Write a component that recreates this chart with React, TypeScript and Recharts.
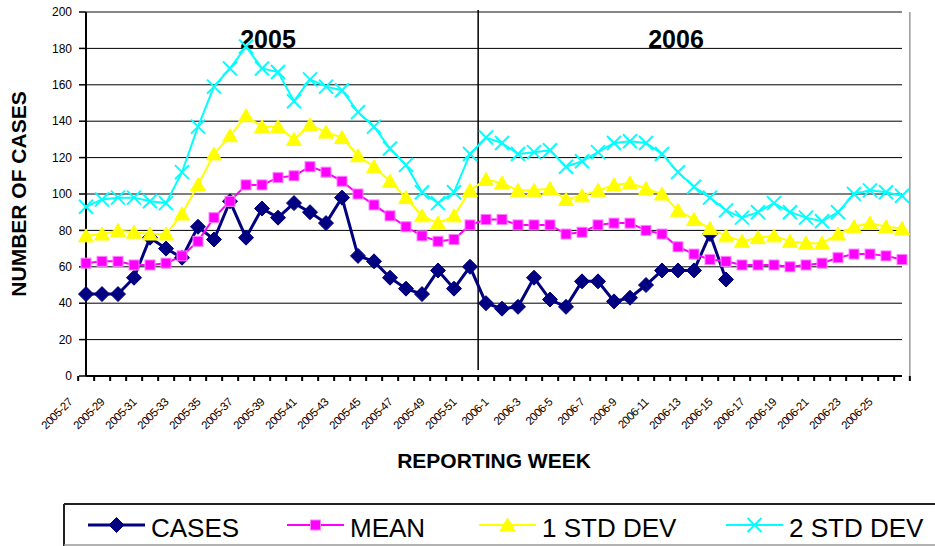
import { ComposedChart, Line, XAxis, YAxis, CartesianGrid, ReferenceLine, ReferenceDot, Label } from "recharts";

const weeks = [
  "2005-27", "2005-28", "2005-29", "2005-30", "2005-31", "2005-32", "2005-33", "2005-34", "2005-35",
  "2005-36", "2005-37", "2005-38", "2005-39", "2005-40", "2005-41", "2005-42", "2005-43", "2005-44",
  "2005-45", "2005-46", "2005-47", "2005-48", "2005-49", "2005-50", "2005-51", "2005-52",
  "2006-1", "2006-2", "2006-3", "2006-4", "2006-5", "2006-6", "2006-7", "2006-8", "2006-9",
  "2006-10", "2006-11", "2006-12", "2006-13", "2006-14", "2006-15", "2006-16", "2006-17", "2006-18",
  "2006-19", "2006-20", "2006-21", "2006-22", "2006-23", "2006-24", "2006-25", "2006-26",
];

// weekly case counts (reporting stops at 2006-15)
const cases = [
  45, 45, 45, 54, 76, 70, 65, 82, 75, 96, 76, 92, 87, 95, 90, 84, 98, 66, 63, 54, 48, 45, 58, 48, 60, 40,
  37, 38, 54, 42, 38, 52, 52, 41, 43, 50, 58, 58, 58, 78, 53,
];

const mean = [
  62, 63, 63, 61, 61, 62, 66, 74, 87, 96, 105, 105, 109, 110, 115, 112, 107, 100, 94, 88, 82, 77, 74, 75, 83, 86,
  86, 83, 83, 83, 78, 79, 83, 84, 84, 80, 78, 71, 67, 64, 63, 61, 61, 61, 60, 61, 62, 65, 67, 67, 66, 64,
];

const oneStdDev = [
  77, 78, 80, 79, 78, 78, 89, 105, 122, 132, 143, 137, 137, 130, 138, 134, 131, 121, 115, 107, 98, 88, 84, 88, 102, 108,
  106, 102, 102, 103, 97, 99, 102, 105, 106, 103, 100, 91, 86, 81, 77, 74, 76, 77, 74, 73, 73, 78, 82, 84, 82, 81,
];

const twoStdDev = [
  93, 97, 98, 98, 96, 95, 112, 137, 159, 169, 181, 169, 167, 151, 163, 159, 157, 145, 137, 125, 116, 101, 95, 101, 122, 131,
  128, 122, 123, 124, 115, 118, 123, 128, 129, 128, 122, 112, 104, 98, 91, 87, 90, 95, 90, 87, 85, 90, 100, 102, 101, 99,
];

const yTicks = [0, 20, 40, 60, 80, 100, 120, 140, 160, 180, 200];

const data = weeks.map((week, i) => ({
  week,
  cases: cases[i] ?? null,
  mean: mean[i],
  std1: oneStdDev[i],
  std2: twoStdDev[i],
}));

const FONT = '"Liberation Sans", Arial, Helvetica, sans-serif';
const PLOT_W = 816;
const BAND = PLOT_W / weeks.length;

const NAVY = "#000080";
const MAGENTA = "#FF00FF";
const YELLOW = "#FFFF00";
const CYAN = "#00FFFF";

function WeekTick(props: any) {
  const { x, y, index, payload } = props;
  const left = x - BAND / 2;
  const tx = x - 13;
  const ty = y + 27;
  return (
    <g>
      <line x1={left} y1={y} x2={left} y2={y + 5} stroke="#000" strokeWidth={2} />
      {index === weeks.length - 1 && (
        <line x1={x + BAND / 2} y1={y} x2={x + BAND / 2} y2={y + 5} stroke="#000" strokeWidth={2} />
      )}
      {index % 2 === 0 && (
        <text
          x={tx}
          y={ty}
          transform={`rotate(-45 ${tx} ${ty})`}
          textAnchor="end"
          fontSize={11.5}
          letterSpacing={-0.6}
          fontFamily={FONT}
          fill="#000"
        >
          {payload.value}
        </text>
      )}
    </g>
  );
}

function diamond(p: any) {
  if (p.cx == null || p.cy == null || p.value == null) return <g key={p.index} />;
  const { cx, cy } = p;
  const s = 7.5;
  return (
    <polygon key={p.index} points={`${cx},${cy - s} ${cx + s},${cy} ${cx},${cy + s} ${cx - s},${cy}`} fill={NAVY} stroke={NAVY} />
  );
}

function square(p: any) {
  if (p.cx == null || p.cy == null) return <g key={p.index} />;
  return <rect key={p.index} x={p.cx - 5} y={p.cy - 5} width={10} height={10} fill={MAGENTA} stroke="#FF80FF" strokeWidth={1} />;
}

function triangle(p: any) {
  if (p.cx == null || p.cy == null) return <g key={p.index} />;
  const { cx, cy } = p;
  return <polygon key={p.index} points={`${cx},${cy - 7} ${cx + 7.5},${cy + 6} ${cx - 7.5},${cy + 6}`} fill={YELLOW} stroke={YELLOW} />;
}

function cross(p: any) {
  if (p.cx == null || p.cy == null) return <g key={p.index} />;
  const { cx, cy } = p;
  const s = 7;
  return (
    <g key={p.index} stroke={CYAN} strokeWidth={2}>
      <line x1={cx - s} y1={cy - s} x2={cx + s} y2={cy + s} />
      <line x1={cx - s} y1={cy + s} x2={cx + s} y2={cy - s} />
    </g>
  );
}

function yearLabel(text: string, dx: number) {
  return (p: any) => {
    const vb = p.viewBox || {};
    return (
      <text
        x={vb.x + (vb.width || 0) / 2 + dx}
        y={vb.y + (vb.height || 0) / 2}
        textAnchor="middle"
        dominantBaseline="central"
        fontSize={25}
        fontWeight="bold"
        fontFamily={FONT}
        fill="#000"
      >
        {text}
      </text>
    );
  };
}

// band-edge vertical line (Excel draws these between categories, not on them)
function edgeLine(shift: number, color: string, topPad: number, bottomPad: number) {
  return (p: any) => {
    const top = Math.min(p.y1, p.y2) - topPad;
    const bottom = Math.max(p.y1, p.y2) - bottomPad;
    return <line x1={p.x1 + shift} y1={top} x2={p.x2 + shift} y2={bottom} stroke={color} strokeWidth={1.5} />;
  };
}

function Legend() {
  const items = [
    { name: "CASES", x: 88, color: NAVY, width: 3, marker: (cx: number, cy: number) => diamond({ cx, cy, value: 1, index: "l" }) },
    { name: "MEAN", x: 287, color: MAGENTA, width: 2, marker: (cx: number, cy: number) => square({ cx, cy, index: "l" }) },
    { name: "1 STD DEV", x: 479, color: YELLOW, width: 2, marker: (cx: number, cy: number) => triangle({ cx, cy, index: "l" }) },
    { name: "2 STD DEV", x: 726, color: CYAN, width: 2, marker: (cx: number, cy: number) => cross({ cx, cy, index: "l" }) },
  ];
  const cy = 525;
  return (
    <svg width={935} height={546} style={{ position: "absolute", left: 0, top: 0, pointerEvents: "none" }}>
      <line x1={64} y1={504} x2={935} y2={504} stroke="#222" strokeWidth={2} />
      <line x1={64} y1={504} x2={64} y2={546} stroke="#222" strokeWidth={2} />
      <line x1={64} y1={545} x2={935} y2={545} stroke="#999" strokeWidth={1.5} />
      {items.map((it) => (
        <g key={it.name}>
          <line x1={it.x} y1={cy} x2={it.x + 57} y2={cy} stroke={it.color} strokeWidth={it.width} />
          {it.marker(it.x + 28.5, cy)}
          <text x={it.x + 63} y={cy + 12} fontSize={26} fontFamily={FONT} fill="#000">
            {it.name}
          </text>
        </g>
      ))}
    </svg>
  );
}

export default function App() {
  return (
    <div style={{ position: "absolute", left: 0, top: 0, width: 935, height: 546, background: "#fff", fontFamily: FONT }}>
      <ComposedChart width={935} height={546} data={data} margin={{ top: 12, right: 33, bottom: 75, left: 0 }}>
        <CartesianGrid vertical={false} stroke="#000" strokeWidth={1} />
        <XAxis
          dataKey="week"
          interval={0}
          height={95}
          tickSize={0}
          tickMargin={0}
          tickLine={false}
          tick={<WeekTick />}
          axisLine={{ stroke: "#000", strokeWidth: 2 }}
        >
          <Label
            value="REPORTING WEEK"
            position="insideBottom"
            offset={3}
            style={{ fontSize: 21, fontWeight: "bold", fontFamily: FONT, fill: "#000" }}
          />
        </XAxis>
        <YAxis
          domain={[0, 200]}
          ticks={yTicks}
          interval={0}
          width={86}
          tickSize={7}
          tickMargin={7}
          axisLine={{ stroke: "#000", strokeWidth: 2 }}
          tickLine={{ stroke: "#000", strokeWidth: 1.5 }}
          tick={{ fontSize: 12, fill: "#000", fontFamily: FONT }}
        >
          <Label
            content={(p: any) => {
              const vb = p.viewBox;
              const x = vb.x + 18;
              const y = vb.y + vb.height / 2;
              return (
                <text
                  x={x}
                  y={y}
                  transform={`rotate(-90 ${x} ${y})`}
                  textAnchor="middle"
                  dominantBaseline="central"
                  fontSize={21}
                  fontWeight="bold"
                  fontFamily={FONT}
                  fill="#000"
                >
                  NUMBER OF CASES
                </text>
              );
            }}
          />
        </YAxis>
        <ReferenceLine y={200} stroke="#888" strokeWidth={1.5} />
        <ReferenceLine x={weeks[weeks.length - 1]} stroke="#999" shape={edgeLine(BAND / 2, "#999", 0, 0)} />
        <ReferenceLine x={weeks[25]} stroke="#000" shape={edgeLine(-BAND / 2, "#000", 2, 6)} />
        <ReferenceDot x={weeks[11]} y={185} r={0} fill="none" stroke="none" label={yearLabel("2005", 6)} />
        <ReferenceDot x={weeks[37]} y={185} r={0} fill="none" stroke="none" label={yearLabel("2006", -2)} />
        <Line dataKey="cases" stroke={NAVY} strokeWidth={3} dot={diamond} activeDot={false} isAnimationActive={false} connectNulls={false} />
        <Line dataKey="mean" stroke={MAGENTA} strokeWidth={2} dot={square} activeDot={false} isAnimationActive={false} />
        <Line dataKey="std1" stroke={YELLOW} strokeWidth={2} dot={triangle} activeDot={false} isAnimationActive={false} />
        <Line dataKey="std2" stroke={CYAN} strokeWidth={2} dot={cross} activeDot={false} isAnimationActive={false} />
      </ComposedChart>
      <Legend />
    </div>
  );
}
